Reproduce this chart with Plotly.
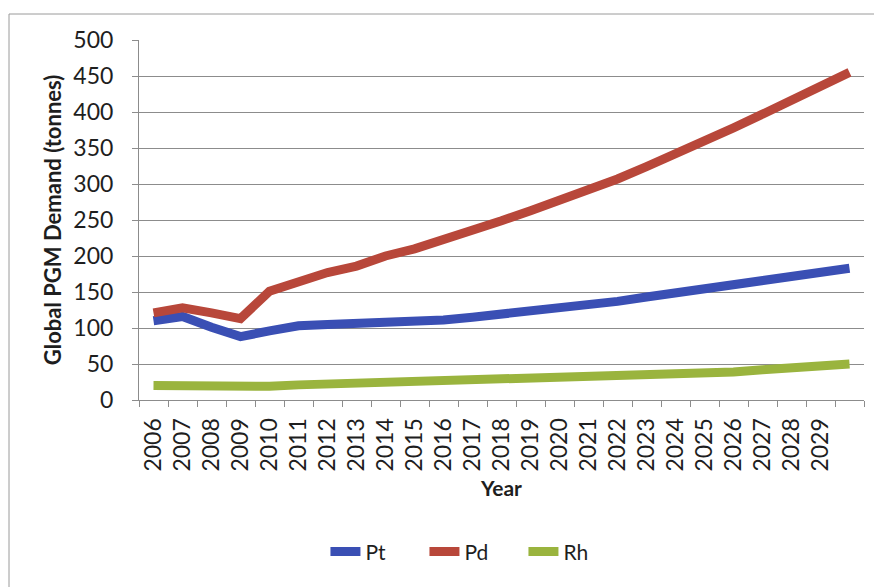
import plotly.graph_objects as go

# years on the category axis (2030 is plotted but carries no label)
years = list(range(2006, 2031))
tick_years = list(range(2006, 2030))

pt = [110, 116, 101, 88, 96, 103, 105, 106, 108, 107, 111, 115, 119,
      123, 127, 132, 137, 143, 149, 154, 160, 166, 171, 177, 183]
pd_ = [121, 128, 121, 113, 151, 165, 177, 186, 200, 210, 222, 235, 249,
       263, 277, 292, 307, 324, 341, 359, 378, 397, 416, 436, 455]
rh = [20, 20, 19, 17, 19, 21, 22, 23, 24, 25, 26, 27, 28,
      29, 30, 31, 32, 33, 35, 37, 39, 42, 45, 47, 50]

series = [("Pt", pt, "#3a4fb4"), ("Pd", pd_, "#b8473a"), ("Rh", rh, "#9ab43e")]

fig = go.Figure()
for name, vals, col in series:
    fig.add_trace(go.Scatter(x=years, y=vals, name=name, mode="lines",
                             line=dict(color=col, width=9)))

font = "Lato, 'Open Sans', sans-serif"
grey = "#8c8c8c"
# page body has an 8px margin, so the figure is shifted back by 8px
fig.update_layout(
    width=882, height=587,
    margin=dict(l=131, r=26, t=32, b=195),
    paper_bgcolor="white", plot_bgcolor="white",
    font=dict(family=font, size=23, color="#1e1e1e"),
    showlegend=True,
    legend=dict(orientation="h", x=0.462, xanchor="center", y=-0.422, yanchor="middle",
                font=dict(size=21), entrywidth=54, entrywidthmode="pixels",
                tracegroupgap=0),
    xaxis=dict(
        range=[2005.5, 2030.5], tickmode="array", tickvals=tick_years,
        ticktext=[str(y) for y in tick_years], tickangle=-90,
        ticks="", showgrid=False, zeroline=False, ticklabelstandoff=8,
        showline=True, linecolor=grey, linewidth=1,
        minor=dict(ticks="outside", tick0=2005.5, dtick=1, ticklen=6,
                   tickcolor=grey, showgrid=False),
        title=dict(text="<b>Year</b>", font=dict(size=21), standoff=10),
    ),
    yaxis=dict(
        range=[0, 500], tickmode="linear", tick0=0, dtick=50,
        ticks="outside", ticklen=6, tickcolor=grey, ticklabelstandoff=14,
        showgrid=True, gridcolor=grey, gridwidth=1, zeroline=False,
        showline=True, linecolor=grey, linewidth=1,
        title=dict(text="<b>Global PGM Demand (tonnes)</b>", font=dict(size=22), standoff=5),
    ),
    shapes=[dict(type="rect", xref="paper", yref="paper",
                 x0=-0.1793, x1=1.1, y0=-0.6, y1=1.0722,
                 line=dict(color="#9a9a9a", width=1), fillcolor="rgba(0,0,0,0)")],
)

fig.write_html("out.html")
